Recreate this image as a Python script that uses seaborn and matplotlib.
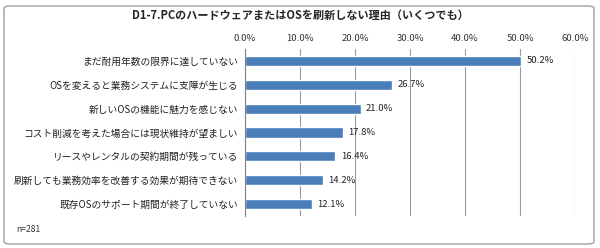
import matplotlib
matplotlib.use("Agg")
import matplotlib.pyplot as plt
from matplotlib.patches import FancyBboxPatch
import seaborn as sns
import pandas as pd

# データ
reasons = [
    "まだ耐用年数の限界に達していない",
    "OSを変えると業務システムに支障が生じる",
    "新しいOSの機能に魅力を感じない",
    "コスト削減を考えた場合には現状維持が望ましい",
    "リースやレンタルの契約期間が残っている",
    "刷新しても業務効率を改善する効果が期待できない",
    "既存OSのサポート期間が終了していない",
]
values = [50.2, 26.7, 21.0, 17.8, 16.4, 14.2, 12.1]
ticks = [0, 10, 20, 30, 40, 50, 60]
title = "D1-7.PCのハードウェアまたはOSを刷新しない理由（いくつでも）"
note = "n=281"

df = pd.DataFrame({"reason": reasons, "value": values})

sns.set_style("white")
plt.rcParams["font.family"] = ["Noto Sans CJK JP", "DejaVu Sans"]

fig = plt.figure(figsize=(6.0, 2.48), dpi=100)
ax = fig.add_axes([245 / 600, 1 - 216 / 248, 330 / 600, 167 / 248])

sns.barplot(data=df, y="reason", x="value", orient="h", color="#4a7ebb",
            width=0.42, saturation=1, ax=ax)

ax.set_xlim(0, 60)
ax.set_xticks(ticks)
ax.set_xticklabels([f"{t:.1f}%" for t in ticks], fontsize=6.8, color="#333333")
ax.xaxis.tick_top()
ax.tick_params(axis="x", length=0, pad=4)
ax.grid(axis="x", color="#9a9a9a", linewidth=0.8)
ax.set_axisbelow(True)

ax.set_yticks(range(len(reasons)))
ax.set_yticklabels(reasons, fontsize=7, color="#222222")
ax.tick_params(axis="y", length=0, pad=5)
# 区切りの目盛り
ax.set_yticks([i + 0.5 for i in range(-1, len(reasons))], minor=True)
ax.tick_params(axis="y", which="minor", length=3, color="#808080", width=0.8)
ax.set_xlabel("")
ax.set_ylabel("")

for side in ["top", "right", "bottom"]:
    ax.spines[side].set_visible(False)
ax.spines["left"].set_color("#808080")
ax.spines["left"].set_linewidth(0.8)

for i, v in enumerate(values):
    ax.text(v + 1.0, i, f"{v:.1f}%", va="center", ha="left", fontsize=6.8, color="#222222")

fig.text(0.5, 1 - 15 / 248, title, ha="center", va="center", fontsize=8, fontweight="bold")
fig.text(16 / 600, 1 - 230 / 248, note, ha="left", va="center", fontsize=6.2, color="#333333")

border = FancyBboxPatch((4 / 600, 4 / 248), 590 / 600, 238 / 248,
                        boxstyle="round,pad=0,rounding_size=0.01",
                        transform=fig.transFigure, fill=False,
                        edgecolor="#a0a0a0", linewidth=1.0)
fig.patches.append(border)

fig.savefig("out.png", dpi=100)
